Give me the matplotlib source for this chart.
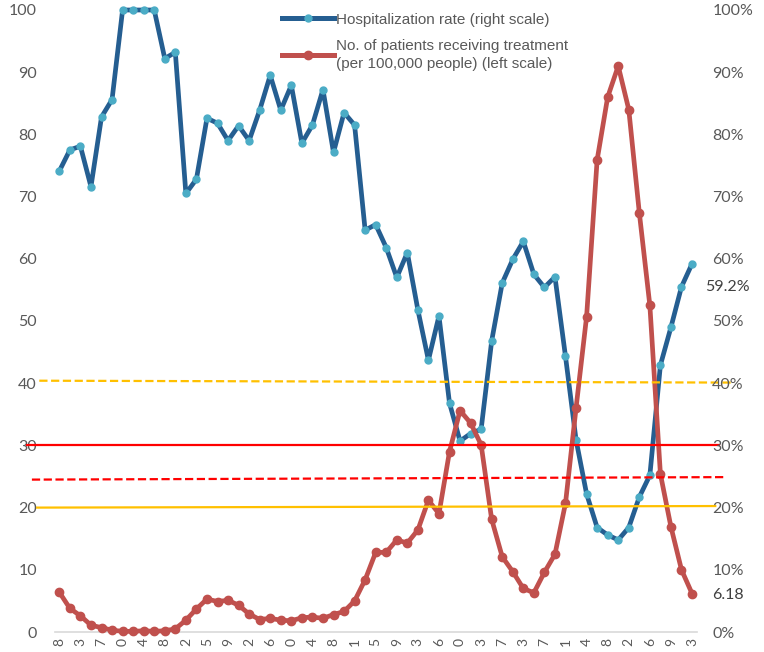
import numpy as np
import matplotlib.pyplot as plt
from matplotlib.ticker import PercentFormatter
from matplotlib.lines import Line2D

# x tick labels (only the last digit is visible in the source)
tick_labels = ['8', '3', '7', '0', '4', '8', '2', '5', '9', '2', '6', '0', '4', '8', '1', '5',
               '9', '3', '6', '0', '3', '7', '3', '7', '1', '4', '8', '2', '6', '9', '3']

# hospitalization rate, % (right scale)
hosp_rate = [74.1, 77.5, 78.1, 71.6, 82.8, 85.6, 100, 100, 100, 100,
             92.2, 93.2, 70.5, 72.8, 82.6, 81.8, 79.0, 81.4, 79.0, 83.9,
             89.5, 83.9, 87.9, 78.6, 81.5, 87.2, 77.1, 83.5, 81.5, 64.6,
             65.5, 61.8, 57.0, 61.0, 51.8, 43.7, 50.8, 36.8, 30.7, 31.9,
             32.6, 46.8, 56.1, 59.9, 62.8, 57.5, 55.4, 57.1, 44.3, 30.9,
             22.2, 16.8, 15.6, 14.8, 16.8, 21.7, 25.2, 42.9, 49.0, 55.5, 59.2]

# patients receiving treatment per 100,000 (left scale)
patients = [6.4, 3.8, 2.6, 1.1, 0.7, 0.3, 0.1, 0.1, 0.2, 0.1,
            0.2, 0.5, 1.9, 3.7, 5.3, 4.9, 5.1, 4.3, 2.9, 2.0,
            2.2, 1.9, 1.8, 2.3, 2.4, 2.2, 2.8, 3.3, 5.0, 8.4,
            12.8, 12.8, 14.8, 14.3, 16.4, 21.2, 19.0, 29.0, 35.6, 33.6,
            30.1, 18.1, 12.1, 9.7, 7.0, 6.3, 9.6, 12.5, 20.7, 36.0,
            50.7, 75.9, 86.0, 91.0, 84.0, 67.4, 52.5, 25.4, 16.9, 10.0, 6.18]

x = np.arange(len(patients))

# reference lines: x from, x to, value from, value to, colour, style
ref_lines = [
    (-1.9, 64.0, 40.4, 40.1, '#FFC000', '--'),
    (-3.1, 62.6, 30.0, 30.0, '#FF0000', '-'),
    (-2.6, 63.0, 24.5, 24.9, '#FF0000', '--'),
    (-2.1, 62.2, 20.0, 20.25, '#FFC000', '-'),
]

grey = '#595959'
fig = plt.figure(figsize=(7.64, 6.52), dpi=100)
ax = fig.add_axes([55/764, 1 - 632/652, 642/764, 622/652])

ax.plot(x, hosp_rate, color='#255E91', lw=3.4, marker='o', ms=5,
        mfc='#4BACC6', mec='#4BACC6', zorder=3, clip_on=False)
ax.plot(x, patients, color='#C0504D', lw=3.4, marker='o', ms=6,
        mfc='#C0504D', mec='#C0504D', zorder=4, clip_on=False)

for x0, x1, y0, y1, c, ls in ref_lines:
    ax.plot([x0, x1], [y0, y1], color=c, ls=ls, lw=1.6, zorder=5, clip_on=False)

ax.set_xlim(-0.41, 60.47)
ax.set_ylim(0, 100)
ax.set_yticks(range(0, 101, 10))
ax.set_xticks(x[::2])
ax.set_xticklabels(tick_labels, rotation=90, fontsize=10, color=grey, family='Lato')
ax.tick_params(axis='both', length=0, colors=grey)
ax.tick_params(axis='y', pad=13, labelsize=11.5)
ax.tick_params(axis='x', pad=4)
for lab in ax.get_yticklabels():
    lab.set_family('Lato')
for s in ['top', 'right', 'left']:
    ax.spines[s].set_visible(False)
ax.spines['bottom'].set_color('#D9D9D9')
ax.spines['bottom'].set_linewidth(1.2)

ax2 = ax.twinx()
ax2.set_ylim(0, 1)
ax2.set_yticks(np.arange(0, 1.01, 0.1))
ax2.yaxis.set_major_formatter(PercentFormatter(1.0, decimals=0))
ax2.tick_params(axis='y', length=0, colors=grey, pad=11, labelsize=11.5)
for lab in ax2.get_yticklabels():
    lab.set_family('Lato')
for s in ax2.spines.values():
    s.set_visible(False)

# end value labels
ax.text(705/764, 1 - 287/652, '59.2%', transform=fig.transFigure, fontsize=11.5,
        color='#404040', family='Lato', va='center')
ax.text(712/764, 1 - 595/652, '6.18', transform=fig.transFigure, fontsize=11.5,
        color='#404040', family='Lato', va='center')

handles = [
    Line2D([], [], color='#255E91', lw=3.6, marker='o', ms=5, mfc='#4BACC6', mec='#4BACC6'),
    Line2D([], [], color='#C0504D', lw=3.6, marker='o', ms=6, mfc='#C0504D', mec='#C0504D'),
]
labels = ['Hospitalization rate (right scale)',
          'No. of patients receiving treatment\n(per 100,000 people) (left scale)']
leg = fig.legend(handles, labels, loc='upper left', bbox_to_anchor=(268/764, 1 + 1/652),
                 frameon=False, handlelength=3.4, handletextpad=0.15, labelspacing=0.8,
                 prop={'family': 'Liberation Sans', 'size': 11}, labelcolor=grey)
for t in leg.get_texts():
    t.set_linespacing(1.35)

fig.savefig('out.png', dpi=100)
